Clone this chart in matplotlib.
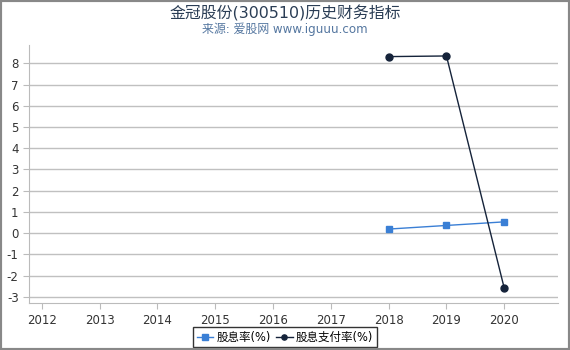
import numpy as np
import matplotlib.pyplot as plt

plt.rcParams['font.family'] = ['DejaVu Sans', 'Noto Sans CJK SC']
plt.rcParams['axes.unicode_minus'] = False

years = [2018, 2019, 2020]
xticks = list(range(2012, 2021))
yield_vals = [0.19, 0.36, 0.53]
payout_vals = [8.32, 8.35, -2.6]
yticks = list(range(-3, 9))

fig = plt.figure(figsize=(5.7, 3.5), dpi=100)
ax = fig.add_axes([0.051, 0.134, 0.928, 0.737])

for y in yticks:
    ax.axhline(y, color='#c0c0c0', linewidth=1, zorder=0)

ax.plot(years, yield_vals, color='#3a7fd5', linewidth=1, marker='s',
        markersize=5, label='股息率(%)', zorder=3)
ax.plot(years, payout_vals, color='#15233a', linewidth=1, marker='o',
        markersize=5, label='股息支付率(%)', zorder=3)

ax.set_xlim(2011.78, 2020.93)
ax.set_ylim(-3.3, 8.86)
ax.set_xticks(xticks)
ax.set_yticks(yticks)
ax.tick_params(axis='both', labelsize=8.5, colors='#bbbbbb', labelcolor='#333333', length=4)
for s in ['top', 'right']:
    ax.spines[s].set_visible(False)
for s in ['left', 'bottom']:
    ax.spines[s].set_color('#bbbbbb')

fig.text(0.5, 0.961, '金冠股份(300510)历史财务指标', ha='center', va='center',
         fontsize=11.4, color='#2a3d55')
fig.text(0.5, 0.915, '来源: 爱股网 www.iguuu.com', ha='center', va='center',
         fontsize=8.6, color='#5577a0')

leg = ax.legend(loc='center', ncol=2, frameon=True, fancybox=False, handlelength=1.4,
                handletextpad=0.3, columnspacing=0.5, borderpad=0.3, markerscale=0.75,
                prop={'family': ['DejaVu Sans', 'Noto Sans CJK SC'], 'size': 8.3})
leg.get_frame().set_edgecolor('black')
leg.get_frame().set_linewidth(1)
leg.set_bbox_to_anchor((0.5, 0.037), transform=fig.transFigure)

border = plt.Rectangle((0, 0), 1, 1, transform=fig.transFigure, fill=False,
                       edgecolor='#888888', linewidth=3)
fig.patches.append(border)

fig.savefig('out.png', dpi=100)
